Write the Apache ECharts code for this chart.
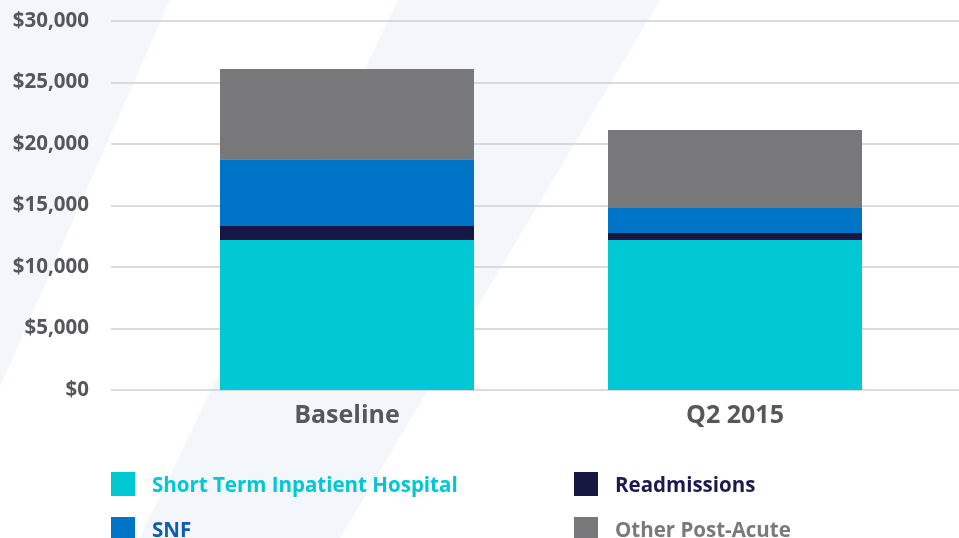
<!DOCTYPE html>
<html>
<head>
<meta charset="utf-8">
<style>html,body{margin:0;padding:0;background:#fff}#c{width:959px;height:538px}</style>
<script src="https://cdn.jsdelivr.net/npm/echarts@6/dist/echarts.min.js"></script>
</head>
<body>
<div id="c"></div>
<script>
var categories = ['Baseline', 'Q2 2015'];
var shortTerm = [12200, 12200];
var readmissions = [1140, 570];
var snf = [5420, 2030];
var otherPostAcute = [7340, 6340];
var yTicks = [0, 5000, 10000, 15000, 20000, 25000, 30000];

var FONT = '"Open Sans", sans-serif';
var chart = echarts.init(document.getElementById('c'), null, {renderer: 'canvas'});

function legendAt(name, left, top, color) {
  return {
    data: [name], left: left, top: top, padding: 0, orient: 'horizontal',
    icon: 'rect', itemWidth: 24, itemHeight: 24, selectedMode: false,
    formatter: '{a|{name}}',
    textStyle: {
      rich: {a: {color: color, fontFamily: FONT, fontWeight: 'bold', fontSize: 20.5, padding: [4, 0, 0, 12]}}
    }
  };
}

chart.setOption({
  backgroundColor: '#ffffff',
  animation: false,
  graphic: [
    {type: 'polygon', z: -10, shape: {points: [[0, 0], [170, 0], [0, 387]]}, style: {fill: '#f3f7fc'}},
    {type: 'polygon', z: -10, shape: {points: [[398, 0], [660, 0], [340, 538], [140, 538]]}, style: {fill: '#f3f7fc'}}
  ],
  grid: [
    {left: 111, right: 0, top: 21, bottom: 148},
    {left: 153, right: 30, top: 21, bottom: 148}
  ],
  xAxis: [
    {type: 'value', gridIndex: 0, min: 0, max: 1, show: false},
    {type: 'category', gridIndex: 1, data: categories,
     axisLine: {show: false}, axisTick: {show: false},
     axisLabel: {color: '#56575b', fontFamily: FONT, fontWeight: 'bold', fontSize: 25, margin: 13}}
  ],
  yAxis: [
    {type: 'value', gridIndex: 0, min: yTicks[0], max: yTicks[yTicks.length - 1], interval: 5000,
     axisLine: {show: false}, axisTick: {show: false},
     splitLine: {show: true, lineStyle: {color: '#cfcfd3', width: 1.5}},
     axisLabel: {color: '#56575b', fontFamily: FONT, fontWeight: 'bold', fontSize: 20.5, margin: 22,
       formatter: function (v) { return '$' + v.toLocaleString('en-US'); }}},
    {type: 'value', gridIndex: 1, min: yTicks[0], max: yTicks[yTicks.length - 1], interval: 5000, show: false,
     splitLine: {show: false}}
  ],
  legend: [
    legendAt('Short Term Inpatient Hospital', 111, 472, '#00c8d2'),
    legendAt('SNF', 111, 517, '#0b5fb3'),
    legendAt('Readmissions', 574, 472, '#1a1a4e'),
    legendAt('Other Post-Acute', 574, 517, '#7a7a7c')
  ],
  series: [
    {name: 'Short Term Inpatient Hospital', type: 'bar', stack: 's', xAxisIndex: 1, yAxisIndex: 1, barWidth: 254, data: shortTerm, itemStyle: {color: '#00c9d3'}},
    {name: 'Readmissions', type: 'bar', stack: 's', xAxisIndex: 1, yAxisIndex: 1, barWidth: 254, data: readmissions, itemStyle: {color: '#171744'}},
    {name: 'SNF', type: 'bar', stack: 's', xAxisIndex: 1, yAxisIndex: 1, barWidth: 254, data: snf, itemStyle: {color: '#0075c8'}},
    {name: 'Other Post-Acute', type: 'bar', stack: 's', xAxisIndex: 1, yAxisIndex: 1, barWidth: 254, data: otherPostAcute, itemStyle: {color: '#78787a'}}
  ]
});
</script>
</body>
</html>
